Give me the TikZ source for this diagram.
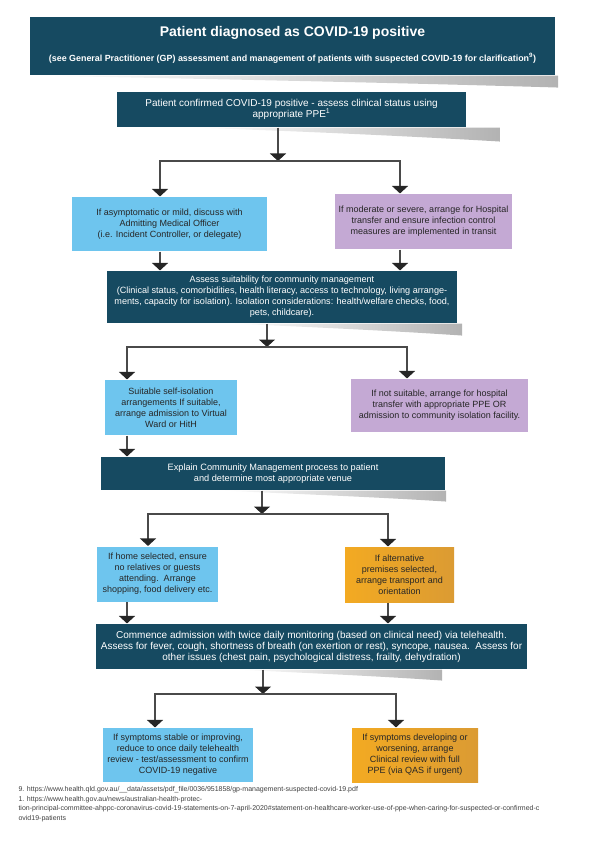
\documentclass[tikz,border=0pt]{standalone}
\usepackage{fontspec}
\setmainfont{Liberation Sans}
\usepackage{tikz}
\usetikzlibrary{arrows.meta}
\usetikzlibrary{backgrounds}

\definecolor{deepteal}{HTML}{164A61}
\definecolor{skyblue}{HTML}{6EC5EE}
\definecolor{lilac}{HTML}{C4A9D4}
\definecolor{amber}{HTML}{F3AA22}
\definecolor{amberdk}{HTML}{DB9B33}
\definecolor{linkgray}{HTML}{4A4A4A}

\begin{document}
\begin{tikzpicture}[x=1pt,y=-1pt,>={Triangle[width=16pt,length=7.5pt,color=black!85]},
                    line width=1.1pt,
                    dark box/.style={rectangle,fill=deepteal,text=white,align=center,
                                     inner sep=2pt,font=\fontsize{10}{11}\selectfont},
                    light box/.style={rectangle,text=black!85,align=center,inner sep=2pt,
                                      font=\fontsize{9}{11}\selectfont},
                    blue box/.style={light box,fill=skyblue},
                    lilac box/.style={light box,fill=lilac},
                    amber box/.style={light box,left color=amber,right color=amberdk},
                    link/.style={draw=linkgray}]

  \useasboundingbox (0,0) rectangle (595,842);

  % heading
  \node[dark box,minimum width=525pt,minimum height=58pt] (title) at (292.5,46) {};
  \node[text=white,font=\bfseries\fontsize{14}{16}\selectfont] (titletext) at (292.5,33)
    {Patient diagnosed as COVID-19 positive};
  \node[text=white,font=\bfseries\fontsize{8.9}{10}\selectfont] (subtitle) at (292.5,58)
    {(see General Practitioner (GP) assessment and management of patients with suspected COVID-19 for clarification\textsuperscript{9})};

  % boxes
  \node[dark box,minimum width=349pt,minimum height=35pt] (confirm) at (291.5,109.5)
    {Patient confirmed COVID-19 positive - assess clinical status using\\appropriate PPE\textsuperscript{1}};
  \node[blue box,minimum width=195pt,minimum height=54pt] (mild) at (169.5,224)
    {If asymptomatic or mild, discuss with\\Admitting Medical Officer\\(i.e. Incident Controller, or delegate)};
  \node[lilac box,minimum width=177pt,minimum height=55pt] (severe) at (423.5,221.5)
    {If moderate or severe, arrange for Hospital\\transfer and ensure infection control\\measures are implemented in transit};
  \node[dark box,minimum width=350pt,minimum height=52pt,font=\fontsize{9.1}{11}\selectfont] (assess) at (282,297)
    {Assess suitability for community management\\(Clinical status, comorbidities, health literacy, access to technology, living arrange-\\ments, capacity for isolation). Isolation considerations: health/welfare checks, food,\\pets, childcare).};
  \node[blue box,minimum width=132pt,minimum height=55pt] (selfiso) at (171,407.5)
    {Suitable self-isolation\\arrangements If suitable,\\arrange admission to Virtual\\Ward or HitH};
  \node[lilac box,minimum width=177pt,minimum height=53pt] (unsuit) at (439.5,405.5)
    {If not suitable, arrange for hospital\\transfer with appropriate PPE OR\\admission to community isolation facility.};
  \node[dark box,minimum width=344pt,minimum height=33pt,font=\fontsize{9.2}{10.5}\selectfont] (explain) at (273,473.5)
    {Explain Community Management process to patient\\and determine most appropriate venue};
  \node[blue box,minimum width=121pt,minimum height=55pt] (home) at (157.5,574)
    {If home selected, ensure\\no relatives or guests\\attending.\ \ Arrange\\shopping, food delivery etc.};
  \node[amber box,minimum width=109pt,minimum height=55pt] (altprem) at (399.5,574.5)
    {If alternative\\premises selected,\\arrange transport and\\orientation};
  \node[dark box,minimum width=431pt,minimum height=45pt] (commence) at (311.5,646.5)
    {Commence admission with twice daily monitoring (based on clinical need) via telehealth.\\Assess for fever, cough, shortness of breath (on exertion or rest), syncope, nausea.\ \ Assess for\\other issues (chest pain, psychological distress, frailty, dehydration)};
  \node[blue box,minimum width=150pt,minimum height=54pt] (stable) at (178,755)
    {If symptoms stable or improving,\\reduce to once daily telehealth\\review - test/assessment to confirm\\COVID-19 negative};
  \node[amber box,minimum width=126pt,minimum height=54pt] (worsen) at (415,755)
    {If symptoms developing or\\worsening, arrange\\Clinical review with full\\PPE (via QAS if urgent)};

  % footnotes
  \node[anchor=north west,align=left,inner sep=0pt,text=black!75,
        font=\fontsize{7}{9.6}\selectfont] (refs) at (18,786)
    {9. https://www.health.qld.gov.au/\_\_data/assets/pdf\_file/0036/951858/gp-management-suspected-covid-19.pdf\\
     1. https://www.health.gov.au/news/australian-health-protec-\\
     tion-principal-committee-ahppc-coronavirus-covid-19-statements-on-7-april-2020\#statement-on-healthcare-worker-use-of-ppe-when-caring-for-suspected-or-confirmed-c\\
     ovid19-patients};

  % junctions
  \coordinate (j1) at (278,161);  \coordinate (j1l) at (160,161); \coordinate (j1r) at (400,161);
  \coordinate (j2) at (267,347);  \coordinate (j2l) at (127,347); \coordinate (j2r) at (407,347);
  \coordinate (j3) at (262,514);  \coordinate (j3l) at (148,514); \coordinate (j3r) at (388,514);
  \coordinate (j4) at (263,694);  \coordinate (j4l) at (155,694); \coordinate (j4r) at (396,694);
  \coordinate (c3) at (127,600);

  % connectors
  \draw[link,->] (confirm.south -| j1) -- (j1);
  \draw[link,<->] (j1l |- mild.north) -- (j1l) -- (j1r) -- (j1r |- severe.north);
  \draw[link,->] (mild.south -| j1l) -- (j1l |- assess.north);
  \draw[link,->] (severe.south -| j1r) -- (j1r |- assess.north);

  \draw[link,->] (assess.south -| j2) -- (j2);
  \draw[link,<->] (j2l |- selfiso.north) -- (j2l) -- (j2r) -- (j2r |- unsuit.north);
  \draw[link,->] (selfiso.south -| j2l) -- (j2l |- explain.north);

  \draw[link,->] (explain.south -| j3) -- (j3);
  \draw[link,<->] (j3l |- home.north) -- (j3l) -- (j3r) -- (j3r |- altprem.north);
  \draw[link,->] (home.south -| c3) -- (c3 |- commence.north);
  \draw[link,->] (altprem.south -| j3r) -- (j3r |- commence.north);

  \draw[link,->] (commence.south -| j4) -- (j4);
  \draw[link,<->] (j4l |- stable.north) -- (j4l) -- (j4r) -- (j4r |- worsen.north);

  % shadows under the dark boxes
  \begin{scope}[on background layer]
    \foreach \n/\a/\b/\d in {title/30/558/12, confirm/190/500/14, assess/230/462/12,
                             explain/220/446/11, commence/235/442/11}
      \shade[left color=white,right color=black!30,draw=none]
        (\n.south -| \a,0) -- (\n.south -| \b,0) -- ([yshift=-\d]\n.south -| \b,0)
        .. controls ([yshift=-0.6*\d]\n.south -| 0.7*\b+0.3*\a,0) and ([yshift=-3]\n.south -| 0.3*\b+0.7*\a,0) .. (\n.south -| \a,0);
  \end{scope}
\end{tikzpicture}
\end{document}
